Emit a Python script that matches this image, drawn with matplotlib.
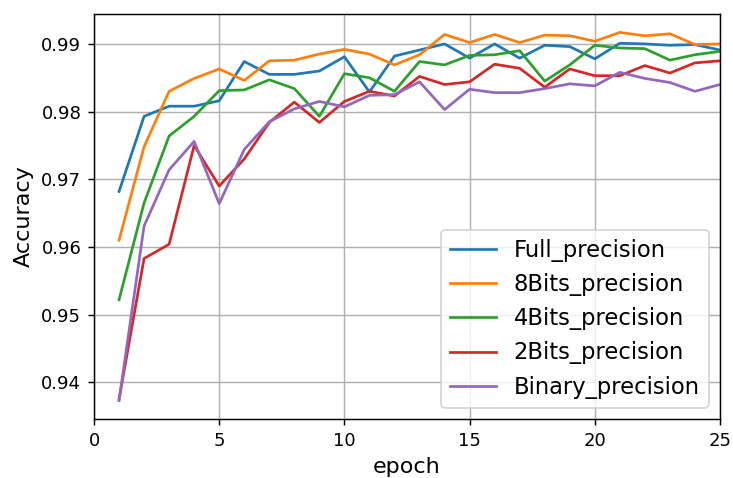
import matplotlib
matplotlib.use("Agg")
import matplotlib.pyplot as plt

epochs = list(range(1, 26))

full_precision = [0.9682, 0.9793, 0.9808, 0.9808, 0.9816, 0.9874, 0.9855, 0.9855, 0.9860, 0.9881,
                  0.9829, 0.9882, 0.9891, 0.9900, 0.9879, 0.9900, 0.9879, 0.9898, 0.9896, 0.9878,
                  0.9901, 0.9900, 0.9898, 0.9899, 0.9891]
bits8_precision = [0.9610, 0.9748, 0.9830, 0.9849, 0.9863, 0.9846, 0.9875, 0.9876, 0.9885, 0.9892,
                   0.9885, 0.9869, 0.9884, 0.9914, 0.9902, 0.9914, 0.9902, 0.9913, 0.9912, 0.9904,
                   0.9917, 0.9912, 0.9915, 0.9899, 0.9900]
bits4_precision = [0.9522, 0.9665, 0.9764, 0.9793, 0.9831, 0.9832, 0.9847, 0.9834, 0.9793, 0.9856,
                   0.9850, 0.9830, 0.9874, 0.9869, 0.9883, 0.9884, 0.9890, 0.9845, 0.9869, 0.9898,
                   0.9894, 0.9893, 0.9876, 0.9884, 0.9889]
bits2_precision = [0.9375, 0.9583, 0.9604, 0.9750, 0.9690, 0.9730, 0.9784, 0.9814, 0.9784, 0.9815,
                   0.9830, 0.9823, 0.9852, 0.9840, 0.9844, 0.9870, 0.9864, 0.9836, 0.9863, 0.9853,
                   0.9853, 0.9868, 0.9857, 0.9872, 0.9875]
binary_precision = [0.9373, 0.9631, 0.9714, 0.9756, 0.9664, 0.9744, 0.9785, 0.9804, 0.9815, 0.9807,
                    0.9824, 0.9825, 0.9844, 0.9803, 0.9833, 0.9828, 0.9828, 0.9834, 0.9841, 0.9838,
                    0.9858, 0.9849, 0.9843, 0.9830, 0.9840]

series = [
    ("Full_precision", full_precision),
    ("8Bits_precision", bits8_precision),
    ("4Bits_precision", bits4_precision),
    ("2Bits_precision", bits2_precision),
    ("Binary_precision", binary_precision),
]

dpi = 130
fig = plt.figure(figsize=(733 / dpi, 478 / dpi), dpi=dpi)
ax = fig.add_axes([94 / 733, 1 - 419 / 478, (720 - 94) / 733, (419 - 14) / 478])

for name, vals in series:
    ax.plot(epochs, vals, label=name, linewidth=1.5)

ax.set_xlim(0, 25)
ax.set_xticks([0, 5, 10, 15, 20, 25])
ax.grid(True)
ax.set_xlabel("epoch", fontsize=12.3)
ax.set_ylabel("Accuracy", fontsize=12.3)
ax.legend(loc="lower right", fontsize=12.5)

fig.savefig("out.png", dpi=dpi)
